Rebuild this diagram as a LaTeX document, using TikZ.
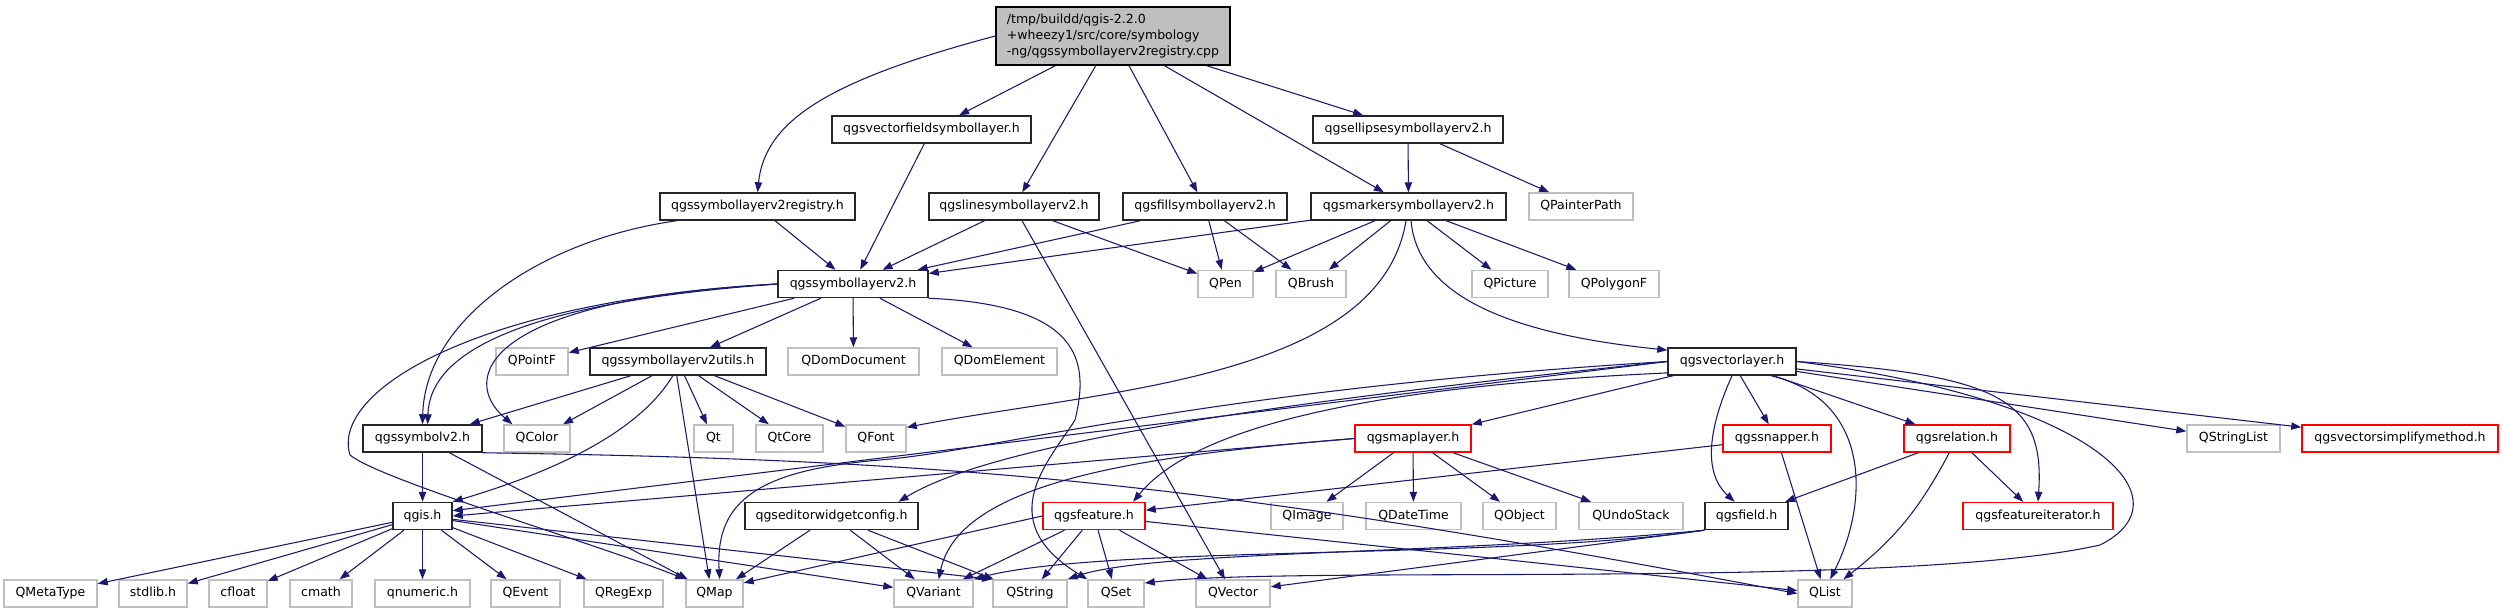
\documentclass[tikz,border=0pt]{standalone}
\usepackage{fontspec}
\setmainfont{DejaVu Sans}
\usetikzlibrary{arrows.meta}

\definecolor{edgeblue}{HTML}{191970}
\definecolor{extgray}{HTML}{BFBFBF}
\definecolor{rootgray}{HTML}{BFBFBF}

\tikzset{
  docfile/.style={draw=black!85, line width=1.1pt, fill=white, inner sep=0pt, minimum height=20.25pt, text height=7.1pt, text depth=2.2pt},
  extfile/.style={docfile, draw=extgray},
  partfile/.style={docfile, draw=red},
  rootfile/.style={draw=black, line width=1.1pt, fill=rootgray, inner sep=0pt, align=left, minimum height=43.5pt},
  boxw/.style={minimum width=#1*0.75pt},
  inc/.style={draw=edgeblue, line width=0.8pt, -{Triangle[length=7.5pt,width=5.5pt]}}
}

\begin{document}
\begin{tikzpicture}[x=0.75pt, y=-0.75pt, every node/.style={font=\fontsize{9.4}{11.8}\selectfont}]
        \useasboundingbox (0,0) rectangle (2503,613);

        % Root file
        \node[rootfile, boxw=234] (root) at (1113,36) {/tmp/buildd/qgis-2.2.0\\+wheezy1/src/core/symbology\\-ng/qgssymbollayerv2registry.cpp};

        % Row 1
        \node[docfile, boxw=199] (vfield) at (931.5,129.5) {qgsvectorfieldsymbollayer.h};
        \node[docfile, boxw=190] (ellipse) at (1408,129.5) {qgsellipsesymbollayerv2.h};

        % Row 2
        \node[docfile, boxw=195] (registry) at (757.5,206.5) {qgssymbollayerv2registry.h};
        \node[docfile, boxw=170] (linesym) at (1014,206.5) {qgslinesymbollayerv2.h};
        \node[docfile, boxw=164] (fillsym) at (1205,206.5) {qgsfillsymbollayerv2.h};
        \node[docfile, boxw=195] (marker) at (1408.5,206.5) {qgsmarkersymbollayerv2.h};
        \node[extfile, boxw=104] (painterpath) at (1581,206.5) {QPainterPath};

        % Row 3
        \node[docfile, boxw=150] (symlayer) at (853,284) {qgssymbollayerv2.h};
        \node[extfile, boxw=55] (qpen) at (1225.5,284) {QPen};
        \node[extfile, boxw=70] (qbrush) at (1311,284) {QBrush};
        \node[extfile, boxw=76] (qpicture) at (1510,284) {QPicture};
        \node[extfile, boxw=90] (qpolygonf) at (1614,284) {QPolygonF};

        % Row 4
        \node[extfile, boxw=72] (qpointf) at (532,361.5) {QPointF};
        \node[docfile, boxw=176] (utils) at (678,361.5) {qgssymbollayerv2utils.h};
        \node[extfile, boxw=131] (qdomdoc) at (853.5,361.5) {QDomDocument};
        \node[extfile, boxw=115] (qdomel) at (999.5,361.5) {QDomElement};
        \node[docfile, boxw=128] (vlayer) at (1732,361.5) {qgsvectorlayer.h};

        % Row 5
        \node[docfile, boxw=119] (symbolv2) at (422.5,438.5) {qgssymbolv2.h};
        \node[extfile, boxw=66] (qcolor) at (537,438.5) {QColor};
        \node[extfile, boxw=39] (qt) at (713.5,438.5) {Qt};
        \node[extfile, boxw=67] (qtcore) at (789.5,438.5) {QtCore};
        \node[extfile, boxw=60] (qfont) at (876,438.5) {QFont};
        \node[partfile, boxw=116] (maplayer) at (1413,438.5) {qgsmaplayer.h};
        \node[partfile, boxw=108] (snapper) at (1777,438.5) {qgssnapper.h};
        \node[partfile, boxw=106] (relation) at (1957,438.5) {qgsrelation.h};
        \node[extfile, boxw=93] (qstringlist) at (2233.5,438.5) {QStringList};
        \node[partfile, boxw=196] (simplify) at (2400,438.5) {qgsvectorsimplifymethod.h};

        % Row 6
        \node[docfile, boxw=59] (qgis) at (422.5,516) {qgis.h};
        \node[docfile, boxw=173] (editor) at (831.5,516) {qgseditorwidgetconfig.h};
        \node[partfile, boxw=102] (feature) at (1094,516) {qgsfeature.h};
        \node[extfile, boxw=72] (qimage) at (1307,516) {QImage};
        \node[extfile, boxw=95] (qdatetime) at (1413.5,516) {QDateTime};
        \node[extfile, boxw=73] (qobject) at (1519.5,516) {QObject};
        \node[extfile, boxw=104] (qundostack) at (1631,516) {QUndoStack};
        \node[docfile, boxw=83] (field) at (1746.5,516) {qgsfield.h};
        \node[partfile, boxw=150] (featit) at (2038,516) {qgsfeatureiterator.h};

        % Row 7
        \node[extfile, boxw=93] (qmetatype) at (50.5,593.5) {QMetaType};
        \node[extfile, boxw=68] (stdlib) at (153,593.5) {stdlib.h};
        \node[extfile, boxw=58] (cfloat) at (238,593.5) {cfloat};
        \node[extfile, boxw=62] (cmath) at (321,593.5) {cmath};
        \node[extfile, boxw=95] (qnumeric) at (422.5,593.5) {qnumeric.h};
        \node[extfile, boxw=69] (qevent) at (525.5,593.5) {QEvent};
        \node[extfile, boxw=79] (qregexp) at (623.5,593.5) {QRegExp};
        \node[extfile, boxw=57] (qmap) at (714.5,593.5) {QMap};
        \node[extfile, boxw=79] (qvariant) at (933.5,593.5) {QVariant};
        \node[extfile, boxw=74] (qstring) at (1030,593.5) {QString};
        \node[extfile, boxw=56] (qset) at (1116,593.5) {QSet};
        \node[extfile, boxw=74] (qvector) at (1233,593.5) {QVector};
        \node[extfile, boxw=54] (qlist) at (1825,593.5) {QList};

        % Root includes
        \draw[inc] (root.west) .. controls (830,80) and (765,120) .. (registry.north);
        \draw[inc] (root) -- (vfield);
        \draw[inc] (root) -- (linesym);
        \draw[inc] (root) -- (fillsym);
        \draw[inc] (root) -- (marker);
        \draw[inc] (root) -- (ellipse);

        % Symbol layer headers
        \draw[inc] (vfield) -- (symlayer);
        \draw[inc] (ellipse) -- (marker);
        \draw[inc] (ellipse) -- (painterpath);
        \draw[inc] (registry) -- (symlayer);
        \draw[inc] (registry.-170) .. controls (540,240) and (425,320) .. (symbolv2.north);
        \draw[inc] (linesym) -- (symlayer);
        \draw[inc] (linesym) -- (qpen);
        \draw[inc] (linesym) -- (qvector);
        \draw[inc] (fillsym) -- (symlayer);
        \draw[inc] (fillsym) -- (qpen);
        \draw[inc] (fillsym) -- (qbrush);
        \draw[inc] (marker) -- (symlayer);
        \draw[inc] (marker) -- (qpen);
        \draw[inc] (marker) -- (qbrush);
        \draw[inc] (marker) -- (qpicture);
        \draw[inc] (marker) -- (qpolygonf);
        \draw[inc] (marker.-80) .. controls (1418,300) and (1520,335) .. (vlayer.170);
        \draw[inc] (marker.-100) .. controls (1380,380) and (1100,390) .. (qfont.20);

        % qgssymbollayerv2.h
        \draw[inc] (symlayer) -- (qpointf);
        \draw[inc] (symlayer) -- (utils);
        \draw[inc] (symlayer) -- (qdomdoc);
        \draw[inc] (symlayer) -- (qdomel);
        \draw[inc] (symlayer.south east) .. controls (1080,305) and (1090,360) .. (1075,420) .. controls (1050,460) and (990,520) .. (qset.north west);
        \draw[inc] (symlayer.west) .. controls (560,300) and (430,340) .. (symbolv2.70);
        \draw[inc] (symlayer.west) .. controls (480,300) and (460,380) .. (qcolor.150);
        \draw[inc] (symlayer.west) .. controls (480,300) and (330,390) .. (350,455) .. controls (380,480) and (600,545) .. (qmap.north west);

        % qgssymbollayerv2utils.h
        \draw[inc] (utils) -- (symbolv2);
        \draw[inc] (utils) -- (qcolor);
        \draw[inc] (utils.-110) .. controls (640,430) and (560,470) .. (qgis.north east);
        \draw[inc] (utils.-95) -- (qmap.110);
        \draw[inc] (utils) -- (qt);
        \draw[inc] (utils) -- (qtcore);
        \draw[inc] (utils) -- (qfont);

        % qgssymbolv2.h and qgis.h
        \draw[inc] (symbolv2) -- (qgis);
        \draw[inc] (symbolv2) -- (qmap);
        \draw[inc] (symbolv2.south east) .. controls (950,460) and (1200,480) .. (qlist.west);
        \draw[inc] (qgis) -- (qmetatype);
        \draw[inc] (qgis) -- (stdlib);
        \draw[inc] (qgis) -- (cfloat);
        \draw[inc] (qgis) -- (cmath);
        \draw[inc] (qgis) -- (qnumeric);
        \draw[inc] (qgis) -- (qevent);
        \draw[inc] (qgis) -- (qregexp);
        \draw[inc] (qgis) -- (qvariant);
        \draw[inc] (qgis) -- (qstring.north west);

        % qgseditorwidgetconfig.h
        \draw[inc] (editor) -- (qmap);
        \draw[inc] (editor) -- (qvariant);
        \draw[inc] (editor) -- (qstring);

        % qgsvectorlayer.h
        \draw[inc] (vlayer.west) -- (qgis.10);
        \draw[inc] (vlayer.west) .. controls (1200,390) and (1000,450) .. (880,460) .. controls (760,470) and (715,500) .. (qmap.70);
        \draw[inc] (vlayer.west) .. controls (1300,400) and (1000,440) .. (editor.12);
        \draw[inc] (vlayer.190) .. controls (1400,385) and (1200,420) .. (feature.20);
        \draw[inc] (vlayer) -- (maplayer);
        \draw[inc] (vlayer) -- (snapper);
        \draw[inc] (vlayer) -- (relation);
        \draw[inc] (vlayer.south) .. controls (1712,420) and (1700,470) .. (field.130);
        \draw[inc] (vlayer.-20) .. controls (1870,400) and (1870,500) .. (qlist.70);
        \draw[inc] (vlayer.east) .. controls (2000,375) and (2045,400) .. (featit.north);
        \draw[inc] (vlayer.east) .. controls (2100,400) and (2190,500) .. (2100,545) .. controls (1900,590) and (1300,565) .. (qset.20);
        \draw[inc] (vlayer) -- (qstringlist);
        \draw[inc] (vlayer) -- (simplify);

        % qgsmaplayer.h
        \draw[inc] (maplayer) -- (qimage);
        \draw[inc] (maplayer) -- (qdatetime);
        \draw[inc] (maplayer) -- (qobject);
        \draw[inc] (maplayer) -- (qundostack);
        \draw[inc] (maplayer.west) -- (qgis.east);
        \draw[inc] (maplayer.west) .. controls (1150,455) and (960,480) .. (qvariant.70);

        % Snapper, relation, field
        \draw[inc] (snapper) -- (feature);
        \draw[inc] (snapper) -- (qlist);
        \draw[inc] (relation) -- (field);
        \draw[inc] (relation) to[bend left=12] (qlist);
        \draw[inc] (relation) -- (featit);
        \draw[inc] (field.south west) -- (qvector.10);
        \draw[inc] (field.south west) .. controls (1500,560) and (1100,545) .. (qvariant.north east);
        \draw[inc] (field.south west) .. controls (1450,555) and (1150,550) .. (qstring.north east);

        % qgsfeature.h
        \draw[inc] (feature) -- (qstring);
        \draw[inc] (feature) -- (qset);
        \draw[inc] (feature) -- (qvector);
        \draw[inc] (feature) -- (qlist);
        \draw[inc] (feature) -- (qvariant);
        \draw[inc] (feature.west) -- (qmap.20);
\end{tikzpicture}
\end{document}
